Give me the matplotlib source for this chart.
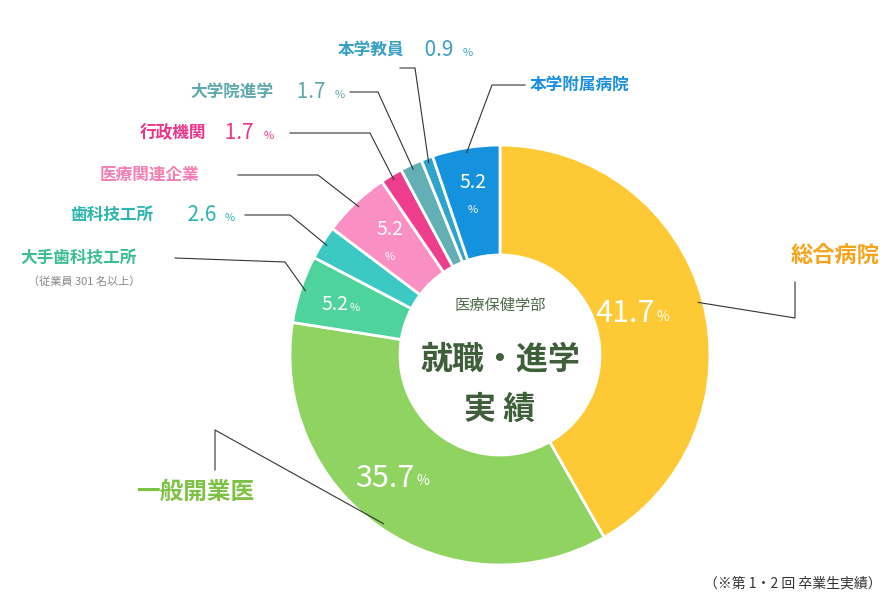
import numpy as np
import matplotlib.pyplot as plt

plt.rcParams['font.family'] = 'Noto Sans CJK JP'

# データ(時計回り、上から)
labels = ['総合病院', '一般開業医', '大手歯科技工所', '歯科技工所', '医療関連企業',
          '行政機関', '大学院進学', '本学教員', '本学附属病院']
values = [41.7, 35.7, 5.2, 2.6, 5.2, 1.7, 1.7, 0.9, 5.2]
colors = ['#FDC935', '#8FD360', '#4ED39C', '#3DC9C3', '#FA8FC3',
          '#EE3D8C', '#62AFB6', '#2EA3CB', '#1592DE']

W, H = 895, 600
fig = plt.figure(figsize=(W / 100, H / 100), dpi=100)
ax = fig.add_axes([0, 0, 1, 1])
ax.set_xlim(0, W)
ax.set_ylim(0, H)
ax.set_aspect('equal')
ax.axis('off')

cx, cy, R = 500, H - 355, 210
wedges, _ = ax.pie(values, colors=colors, startangle=90, counterclock=False,
                   radius=R, center=(cx, cy), frame=True,
                   wedgeprops=dict(width=110, edgecolor='white', linewidth=2))
ax.set_xlim(0, W)
ax.set_ylim(0, H)
ax.axis('off')


def py(y):
    return H - y


def mid(i):
    w = wedges[i]
    return np.deg2rad((w.theta1 + w.theta2) / 2)


# 内側の数値
def pct(i, r, big, small, stacked=False):
    a = mid(i)
    x, y = cx + r * np.cos(a), cy + r * np.sin(a)
    if stacked:
        ax.text(x, y + 10, f'{values[i]}', color='white', fontsize=big, ha='center', va='center')
        ax.text(x, y - 18, '%', color='white', fontsize=small, ha='center', va='center')
    else:
        ax.text(x, y, f'{values[i]}', color='white', fontsize=big, ha='right', va='center')
        ax.text(x + 2, y - 3, '%', color='white', fontsize=small, ha='left', va='center')


pct(0, 160, 22, 10)
pct(1, 150, 22, 10)
pct(2, 160, 14, 8)
pct(4, 160, 14, 8, stacked=True)
pct(8, 165, 14, 8, stacked=True)

# 引き出し線とラベル
lc = '#333333'


def leader(i, pts, r=205):
    a = mid(i)
    xs = [cx + r * np.cos(a)] + [p[0] for p in pts]
    ys = [cy + r * np.sin(a)] + [py(p[1]) for p in pts]
    ax.plot(xs, ys, color=lc, lw=0.8)


leader(0, [(795, 318), (795, 282)])
ax.text(835, py(255), labels[0], color='#F5A41C', fontsize=16, fontweight='bold', ha='center', va='center')

leader(1, [(215, 430), (215, 470)])
ax.text(195, py(492), labels[1], color='#7DC244', fontsize=17, fontweight='bold', ha='center', va='center')

leader(2, [(285, 262), (175, 258)])
ax.text(20, py(258), labels[2], color='#3CBF90', fontsize=12, fontweight='bold', ha='left', va='center')
ax.text(28, py(282), '（従業員 301 名以上）', color='#888888', fontsize=8, ha='left', va='center')

leader(3, [(290, 215), (245, 215)])
ax.text(70, py(215), labels[3], color='#2DB5AE', fontsize=12, fontweight='bold', ha='left', va='center')
ax.text(183, py(215), ' 2.6', color='#2DB5AE', fontsize=15, ha='left', va='center')
ax.text(225, py(218), '%', color='#2DB5AE', fontsize=8, ha='left', va='center')

leader(4, [(318, 175), (238, 175)])
ax.text(100, py(175), labels[4], color='#F37EB3', fontsize=12, fontweight='bold', ha='left', va='center')

leader(5, [(370, 133), (290, 133)])
ax.text(140, py(133), labels[5], color='#E9358A', fontsize=12, fontweight='bold', ha='left', va='center')
ax.text(220, py(133), ' 1.7', color='#E9358A', fontsize=15, ha='left', va='center')
ax.text(264, py(136), '%', color='#E9358A', fontsize=8, ha='left', va='center')

leader(6, [(378, 92), (350, 92)])
ax.text(190, py(92), labels[6], color='#5FA9AE', fontsize=12, fontweight='bold', ha='left', va='center')
ax.text(292, py(92), ' 1.7', color='#5FA9AE', fontsize=15, ha='left', va='center')
ax.text(335, py(95), '%', color='#5FA9AE', fontsize=8, ha='left', va='center')

leader(7, [(415, 68), (400, 68)])
ax.text(338, py(50), labels[7], color='#3AA0C5', fontsize=12, fontweight='bold', ha='left', va='center')
ax.text(420, py(50), ' 0.9', color='#3AA0C5', fontsize=15, ha='left', va='center')
ax.text(463, py(53), '%', color='#3AA0C5', fontsize=8, ha='left', va='center')

leader(8, [(492, 85), (525, 85)])
ax.text(530, py(85), labels[8], color='#1A8FDD', fontsize=12, fontweight='bold', ha='left', va='center')

# 中央テキスト
ax.text(cx, py(305), '医療保健学部', color='#4F6B4A', fontsize=11, ha='center', va='center')
ax.text(cx, py(360), '就職・進学', color='#3F5E3A', fontsize=23, fontweight='bold', ha='center', va='center')
ax.text(cx, py(410), '実 績', color='#3F5E3A', fontsize=23, fontweight='bold', ha='center', va='center')

ax.text(882, py(583), '（※第 1・2 回 卒業生実績）', color='#333333', fontsize=10, ha='right', va='center')

fig.savefig('out.png', dpi=100)
